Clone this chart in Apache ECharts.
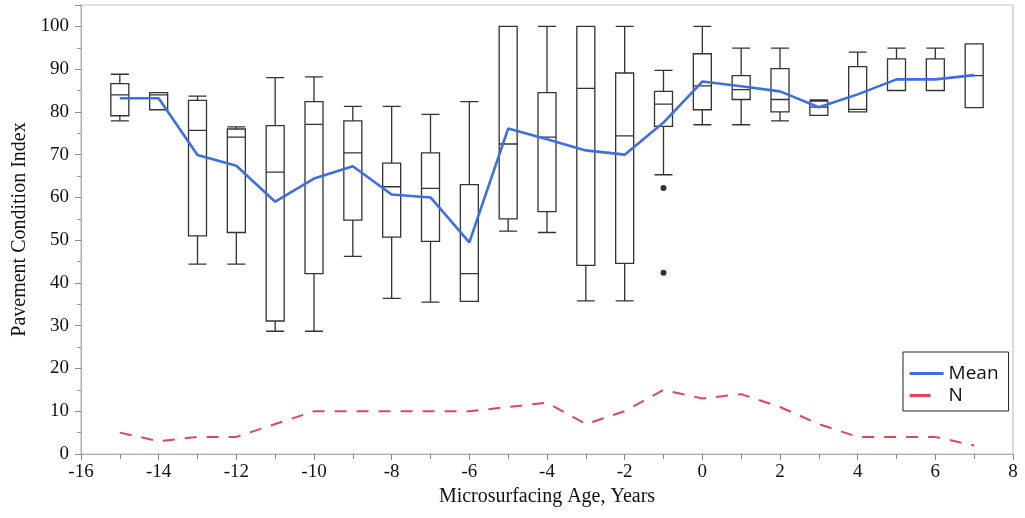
<!DOCTYPE html>
<html>
<head>
<meta charset="utf-8">
<script src="https://cdn.jsdelivr.net/npm/echarts@6/dist/echarts.min.js"></script>
<style>
html,body{margin:0;padding:0;background:#fff;}
#chart{width:1025px;height:518px;}
</style>
</head>
<body>
<div id="chart"></div>
<script>
// Microsurfacing age (years)
const ages = [-15,-14,-13,-12,-11,-10,-9,-8,-7,-6,-5,-4,-3,-2,-1,0,1,2,3,4,5,6,7];
// Box plot statistics (Pavement Condition Index)
const whiskerLow  = [77.9,80.5,44.4,44.4,28.7,28.7,46.2,36.4,35.5,35.7,52.1,51.8,35.8,35.8,65.3,77.0,77.0,77.9,79.2,80.0,85.0,85.0,81.0];
const q1          = [79.1,80.5,51.0,51.8,31.1,42.2,54.7,50.7,49.7,35.7,55.0,56.7,44.1,44.6,76.6,80.5,82.9,80.0,79.2,80.0,85.0,85.0,81.0];
const median      = [84.0,84.0,75.7,74.1,65.9,77.1,70.4,62.5,62.1,42.2,72.5,74.1,85.5,74.4,81.8,86.1,85.2,82.9,81.1,80.6,85.0,85.0,88.5];
const q3          = [86.6,84.5,82.7,76.0,76.8,82.4,77.9,68.0,70.4,63.0,100,84.5,100,89.1,84.8,93.6,88.5,90.1,82.5,90.6,92.4,92.4,95.9];
const whiskerHigh = [88.8,84.5,83.7,76.5,88.0,88.2,81.3,81.3,79.4,82.4,100,100,100,100,89.7,100,94.9,94.9,82.8,94.0,94.9,94.9,95.9];
// Mean PCI and number of sections
const meanPCI = [83.2,83.2,69.9,67.4,59.0,64.4,67.3,60.7,60.0,49.5,76.1,73.6,71.0,70.0,77.5,87.1,86.0,84.8,81.1,84.1,87.6,87.6,88.6];
const countN  = [5,3,4,4,7,10,10,10,10,10,11,12,7,10,15,13,14,11,7,4,4,4,2];
// Outliers
const outlierAge = [-1,-1];
const outlierPCI = [62.2,42.4];

const boxData = ages.map((a,i)=>[a, whiskerLow[i], q1[i], median[i], q3[i], whiskerHigh[i]]);
const meanData = ages.map((a,i)=>[a, meanPCI[i]]);
const nData = ages.map((a,i)=>[a, countN[i]]);
const outData = outlierAge.map((a,i)=>[a, outlierPCI[i]]);

const serif = '"Liberation Serif","DejaVu Serif",serif';
const chart = echarts.init(document.getElementById('chart'));
chart.setOption({
  animation:false,
  backgroundColor:'#fff',
  grid:{left:81,right:12,top:5,bottom:64,show:true,borderColor:'#c4c4c4',borderWidth:1.2},
  xAxis:{
    type:'value',min:-16,max:8,interval:2,
    name:'Microsurfacing Age, Years',nameLocation:'middle',nameGap:32,
    nameTextStyle:{fontFamily:serif,fontSize:20,color:'#111'},
    axisLine:{show:true,onZero:false,lineStyle:{color:'#b0b0b0',width:1.2}},
    axisTick:{show:true,length:6,lineStyle:{color:'#888'}},
    minorTick:{show:true,splitNumber:2,length:5,lineStyle:{color:'#888'}},
    splitLine:{show:false},
    axisLabel:{fontFamily:serif,fontSize:19,color:'#111',margin:9}
  },
  yAxis:{
    type:'value',min:0,max:105,interval:10,
    name:'Pavement Condition Index',nameLocation:'middle',nameGap:49,
    nameTextStyle:{fontFamily:serif,fontSize:20,color:'#111'},
    axisLine:{show:true,onZero:false,lineStyle:{color:'#b0b0b0',width:1.2}},
    axisTick:{show:true,length:6,lineStyle:{color:'#888'}},
    minorTick:{show:true,splitNumber:2,length:4,lineStyle:{color:'#999'}},
    splitLine:{show:false},
    axisLabel:{fontFamily:serif,fontSize:19,color:'#111',margin:12,showMaxLabel:false,
      formatter:v=> v>100?'':String(v)}
  },
  legend:{
    left:903,top:352,orient:'vertical',
    borderColor:'#222',borderWidth:1,padding:[12,10,6,5],itemGap:3,
    itemWidth:34,itemHeight:20,itemGap:3,
    itemStyle:{color:'rgba(0,0,0,0)',borderWidth:0,opacity:0},
    textStyle:{fontFamily:'"Open Sans","Noto Sans",sans-serif',fontSize:19,color:'#111'},
    data:[{name:'Mean',lineStyle:{width:3.2}},{name:'N',lineStyle:{width:3.2,type:[21,40]}}]
  },
  series:[
    {
      type:'boxplot',name:'PCI',data:boxData,boxWidth:[18,18],
      encode:{x:0,y:[1,2,3,4,5]},
      itemStyle:{color:'rgba(255,255,255,0)',borderColor:'#333',borderWidth:1.3},
      emphasis:{disabled:true},silent:true,z:2
    },
    {
      type:'scatter',name:'Outliers',data:outData,symbol:'circle',symbolSize:6,
      itemStyle:{color:'#000'},silent:true,z:3
    },
    {
      type:'line',name:'Mean',data:meanData,symbol:'none',
      lineStyle:{color:'#3d6fe3',width:2.6},itemStyle:{color:'#3d6fe3'},z:4,silent:true
    },
    {
      type:'line',name:'N',data:nData,symbol:'none',
      lineStyle:{color:'#e0475a',width:2,type:[12,10]},itemStyle:{color:'#e0475a'},z:4,silent:true
    }
  ]
});
</script>
</body>
</html>
